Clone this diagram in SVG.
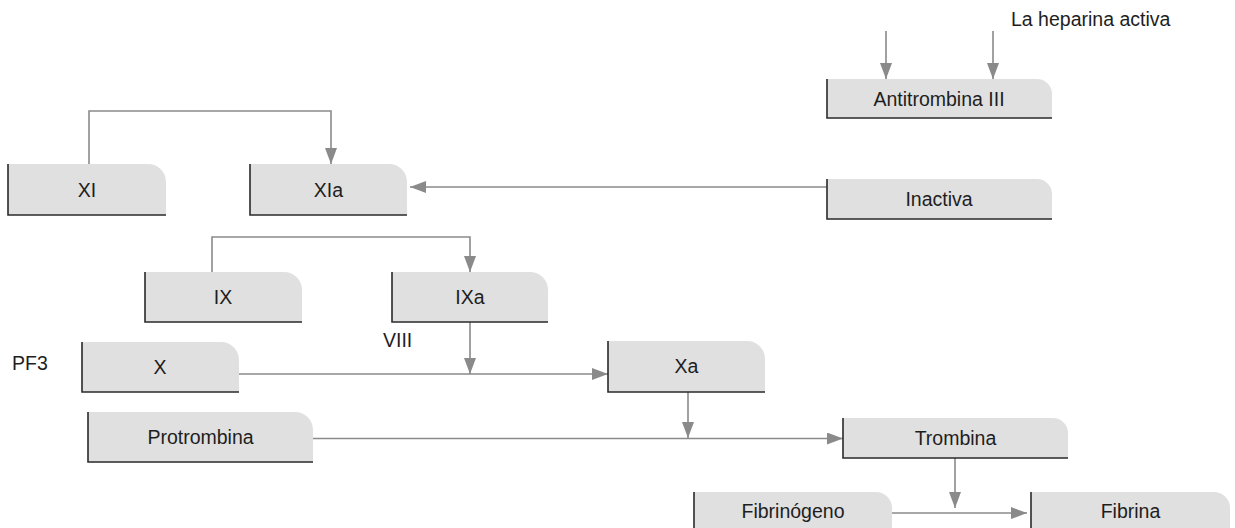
<svg xmlns="http://www.w3.org/2000/svg" width="1235" height="528" viewBox="0 0 1235 528">
<style>
.box{fill:#e0e0e0;stroke:none}
.edge{fill:none;stroke:#2a2a2a;stroke-width:1.6}
.lbl{font-family:"Liberation Sans",Arial,sans-serif;font-size:19.5px;fill:#1e1e1e;text-anchor:middle}
.free{font-family:"Liberation Sans",Arial,sans-serif;font-size:19.5px;fill:#1e1e1e}
.con{fill:none;stroke:#8a8a8a;stroke-width:1.6}
</style>
<defs>
<marker id="ah" viewBox="0 0 16 12" refX="16" refY="6" markerWidth="16" markerHeight="12" markerUnits="userSpaceOnUse" orient="auto">
<path d="M0,0 L16,6 L0,12 Z" fill="#8a8a8a"/>
</marker>
</defs>
<rect width="1235" height="528" fill="#ffffff"/>

<g id="connectors">
<path class="con" d="M886,31 V79" marker-end="url(#ah)"/>
<path class="con" d="M993,31 V79" marker-end="url(#ah)"/>
<path class="con" d="M89,164 V111 H331 V164" marker-end="url(#ah)"/>
<path class="con" d="M827,187 H410" marker-end="url(#ah)"/>
<path class="con" d="M212,272 V237 H470 V272" marker-end="url(#ah)"/>
<path class="con" d="M470,322 V374" marker-end="url(#ah)"/>
<path class="con" d="M233,374 H608" marker-end="url(#ah)"/>
<path class="con" d="M688,392 V438" marker-end="url(#ah)"/>
<path class="con" d="M310,438.5 H843" marker-end="url(#ah)"/>
<path class="con" d="M955,458 V508" marker-end="url(#ah)"/>
<path class="con" d="M884,513 H1027" marker-end="url(#ah)"/>
</g>

<g id="n-antitrombina">
<path class="box" d="M827,79 H1037 A15,15 0 0 1 1052,94 V118 H827 Z"/>
<path class="edge" d="M827,79 V118 H1052"/>
<text class="lbl" x="939" y="106">Antitrombina III</text>
</g>

<g id="n-xi">
<path class="box" d="M8,164 H148 A18,18 0 0 1 166,182 V215 H8 Z"/>
<path class="edge" d="M8,164 V215 H166"/>
<text class="lbl" x="87" y="197">XI</text>
</g>

<g id="n-xia">
<path class="box" d="M250,164 H389 A18,18 0 0 1 407,182 V215 H250 Z"/>
<path class="edge" d="M250,164 V215 H407"/>
<text class="lbl" x="328.5" y="197">XIa</text>
</g>

<g id="n-inactiva">
<path class="box" d="M827,179 H1037 A15,15 0 0 1 1052,194 V219 H827 Z"/>
<path class="edge" d="M827,179 V219 H1052"/>
<text class="lbl" x="939" y="206">Inactiva</text>
</g>

<g id="n-ix">
<path class="box" d="M145,272 H284 A18,18 0 0 1 302,290 V322 H145 Z"/>
<path class="edge" d="M145,272 V322 H302"/>
<text class="lbl" x="223" y="304">IX</text>
</g>

<g id="n-ixa">
<path class="box" d="M392,272 H530 A18,18 0 0 1 548,290 V322 H392 Z"/>
<path class="edge" d="M392,272 V322 H548"/>
<text class="lbl" x="470" y="304">IXa</text>
</g>

<g id="n-x">
<path class="box" d="M82,342 H221 A18,18 0 0 1 239,360 V392 H82 Z"/>
<path class="edge" d="M82,342 V392 H239"/>
<text class="lbl" x="160" y="374">X</text>
</g>

<g id="n-xa">
<path class="box" d="M608,341 H747 A18,18 0 0 1 765,359 V392 H608 Z"/>
<path class="edge" d="M608,341 V392 H765"/>
<text class="lbl" x="686.5" y="373">Xa</text>
</g>

<g id="n-protrombina">
<path class="box" d="M88,412 H295 A18,18 0 0 1 313,430 V462 H88 Z"/>
<path class="edge" d="M88,412 V462 H313"/>
<text class="lbl" x="200.5" y="444">Protrombina</text>
</g>

<g id="n-trombina">
<path class="box" d="M843,418 H1053 A15,15 0 0 1 1068,433 V458 H843 Z"/>
<path class="edge" d="M843,418 V458 H1068"/>
<text class="lbl" x="955.5" y="445">Trombina</text>
</g>

<g id="n-fibrinogeno">
<path class="box" d="M694,492 H876 A16,16 0 0 1 892,508 V540 H694 Z"/>
<path class="edge" d="M694,492 V540"/>
<text class="lbl" x="793" y="518">Fibrinógeno</text>
</g>

<g id="n-fibrina">
<path class="box" d="M1031,492 H1214 A16,16 0 0 1 1230,508 V540 H1031 Z"/>
<path class="edge" d="M1031,492 V540"/>
<text class="lbl" x="1130.5" y="518">Fibrina</text>
</g>

<g id="labels">
<text class="free" x="1011" y="26">La heparina activa</text>
<text class="free" x="12" y="370">PF3</text>
<text class="free" x="383" y="347">VIII</text>
</g>
</svg>
